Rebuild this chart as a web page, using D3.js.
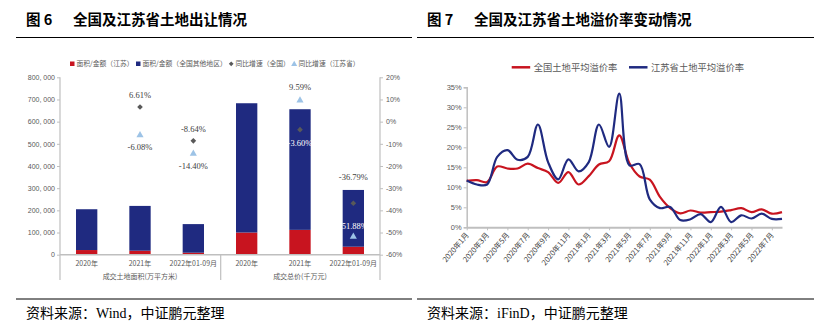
<!DOCTYPE html>
<html>
<head>
<meta charset="utf-8">
<script src="https://cdn.jsdelivr.net/npm/d3@7"></script>
<style>
    body { margin: 0; background: #fff; }
    text { font-family: "Noto Sans CJK SC", sans-serif; }
</style>
</head>
<body>
<div id="chart"></div>
<script>
// ---- figure 6 data ----
const groupNames = ['成交土地面积(万平方米)', '成交总价(千万元)'];
const periods = ['2020年', '2021年', '2022年01-09月'];
const jiangsuAmt = [21000, 18000, 9000, 100000, 112000, 36000];
const otherAmt = [184000, 202000, 129000, 583000, 544000, 256000];
const growthNation = [null, 6.61, -8.64, null, -3.60, -36.79];
const growthJiangsu = [null, -6.08, -14.40, null, 9.59, -51.88];
const leftTicks = [0, 100000, 200000, 300000, 400000, 500000, 600000, 700000, 800000];
const rightTicks = [-60, -50, -40, -30, -20, -10, 0, 10, 20];

// ---- figure 7 data ----
const months = ['2020年1月','2020年2月','2020年3月','2020年4月','2020年5月','2020年6月','2020年7月','2020年8月',
    '2020年9月','2020年10月','2020年11月','2020年12月','2021年1月','2021年2月','2021年3月','2021年4月',
    '2021年5月','2021年6月','2021年7月','2021年8月','2021年9月','2021年10月','2021年11月','2021年12月',
    '2022年1月','2022年2月','2022年3月','2022年4月','2022年5月','2022年6月','2022年7月','2022年8月'];
const premiumNation = [11.6, 11.8, 11.3, 15.2, 14.7, 14.7, 15.9, 14.8, 13.8, 11.1, 13.8, 10.7, 12.8, 15.7, 16.5, 23.0,
    16.0, 12.7, 11.9, 7.6, 4.8, 3.5, 4.2, 3.7, 3.8, 3.9, 4.3, 4.8, 3.8, 4.5, 3.4, 3.8];
const premiumJiangsu = [11.7, 10.7, 10.7, 17.6, 19.3, 16.9, 17.6, 25.7, 16.3, 12.0, 17.0, 14.0, 16.3, 25.7, 20.1, 33.4,
    15.5, 15.8, 7.0, 4.8, 5.1, 1.8, 2.0, 3.3, 1.3, 5.1, 1.3, 3.0, 2.2, 3.4, 2.1, 2.1];
const premiumTicks = [0, 5, 10, 15, 20, 25, 30, 35];

const RED = '#C8141F', NAVY = '#1F2A80', LIGHTBLUE = '#9DC3E6', DIAMOND = '#595959';
const AXIS = '#BFBFBF', LABEL = '#595959';

const svg = d3.select('#chart').append('svg')
    .attr('width', 829)
    .attr('height', 330);
svg.append('rect').attr('width', 829).attr('height', 330).attr('fill', '#fff');

// titles, rules and sources
function frame(x0, x1, num, title, source) {
    svg.append('text')
        .attr('x', x0 + 10).attr('y', 25)
        .attr('font-size', 14.5).attr('font-weight', 'bold').attr('fill', '#000')
        .text(num);
    svg.append('text')
        .attr('x', x0 + 57).attr('y', 25)
        .attr('font-size', 14.5).attr('font-weight', 'bold').attr('fill', '#000')
        .text(title);
    svg.append('line').attr('x1', x0).attr('x2', x1).attr('y1', 37.5).attr('y2', 37.5)
        .attr('stroke', '#000').attr('stroke-width', 1);
    svg.append('line').attr('x1', x0).attr('x2', x1).attr('y1', 299).attr('y2', 299)
        .attr('stroke', '#000').attr('stroke-width', 1);
    svg.append('text')
        .attr('x', x0 + 10).attr('y', 318)
        .attr('font-size', 14).attr('fill', '#000')
        .style('font-family', '"Liberation Serif", "Noto Sans CJK SC", serif')
        .text(source);
}
frame(16, 412, '图 6', '全国及江苏省土地出让情况', '资料来源：Wind，中证鹏元整理');
frame(417, 814, '图 7', '全国及江苏省土地溢价率变动情况', '资料来源：iFinD，中证鹏元整理');

// ================= figure 6 =================
const idx = d3.range(jiangsuAmt.length);
const x = d3.scaleBand().domain(idx).range([60, 380]).paddingInner(0.6).paddingOuter(0.3);
const yL = d3.scaleLinear().domain([0, 800000]).range([254.7, 77.3]);
const yR = d3.scaleLinear().domain([-60, 20]).range([254.7, 77.3]);

const gL = svg.append('g').attr('transform', 'translate(60,0)')
    .call(d3.axisLeft(yL).tickValues(leftTicks).tickSize(3).tickPadding(2)
        .tickFormat(d => d3.format(',')(d).replace(',', ', ')));
const gR = svg.append('g').attr('transform', 'translate(380,0)')
    .call(d3.axisRight(yR).tickValues(rightTicks).tickSize(3).tickPadding(3)
        .tickFormat(d => d + '%'));
[gL, gR].forEach(g => {
    g.select('.domain').remove();
    g.selectAll('line').attr('stroke', AXIS);
    g.selectAll('text').attr('fill', LABEL).attr('font-size', 7)
        .style('font-family', '"Liberation Sans", Arial, sans-serif');
});

// axis lines, baseline, separators
[60, 220.7, 380].forEach((lx, i) => {
    svg.append('line').attr('x1', lx).attr('x2', lx)
        .attr('y1', i === 1 ? yL(0) : yL(800000)).attr('y2', 280)
        .attr('stroke', AXIS).attr('stroke-width', 1.2);
});

// stacked bars
svg.append('g').selectAll('rect').data(idx).join('rect')
    .attr('x', i => x(i)).attr('width', x.bandwidth())
    .attr('y', i => yL(jiangsuAmt[i])).attr('height', i => yL(0) - yL(jiangsuAmt[i]))
    .attr('fill', RED);
svg.append('g').selectAll('rect').data(idx).join('rect')
    .attr('x', i => x(i)).attr('width', x.bandwidth())
    .attr('y', i => yL(jiangsuAmt[i] + otherAmt[i]))
    .attr('height', i => yL(jiangsuAmt[i]) - yL(jiangsuAmt[i] + otherAmt[i]))
    .attr('fill', NAVY);

svg.append('line').attr('x1', 60).attr('x2', 380).attr('y1', yL(0)).attr('y2', yL(0))
    .attr('stroke', AXIS).attr('stroke-width', 1.5);

// category labels
svg.append('g').selectAll('text').data(idx).join('text')
    .attr('x', i => x(i) + x.bandwidth() / 2).attr('y', 266)
    .attr('text-anchor', 'middle').attr('font-size', 7).attr('fill', LABEL)
    .text(i => periods[i % 3]);
svg.append('g').selectAll('text').data(groupNames).join('text')
    .attr('x', (d, g) => x(g * 3 + 1) + x.bandwidth() / 2).attr('y', 279)
    .attr('text-anchor', 'middle').attr('font-size', 7).attr('fill', LABEL)
    .text(d => d);

// growth markers and labels
const cx = i => x(i) + x.bandwidth() / 2;
const diamond = d3.symbol(d3.symbolSquare, 16);
const triangle = d3.symbol(d3.symbolTriangle, 22);
// label baseline offset from its marker, px
const offNation = [0, -9, -9, 0, 16, -23];
const offJiangsu = [0, 15, 15, 0, -10, -8];

function labels(values, off) {
    idx.filter(i => values[i] !== null).forEach(i => {
        const ty = yR(values[i]) + off[i];
        const barTop = yL(jiangsuAmt[i] + otherAmt[i]);
        svg.append('text')
            .attr('x', cx(i)).attr('y', ty)
            .attr('text-anchor', 'middle').attr('font-size', 8.5)
            .style('font-family', '"Liberation Serif", serif')
            .attr('fill', ty - 6 > barTop ? '#fff' : '#404040')
            .text(values[i].toFixed(2) + '%');
    });
}
svg.append('g').selectAll('path').data(idx.filter(i => growthNation[i] !== null)).join('path')
    .attr('d', diamond)
    .attr('transform', i => `translate(${cx(i)},${yR(growthNation[i])}) rotate(45)`)
    .attr('fill', DIAMOND);
svg.append('g').selectAll('path').data(idx.filter(i => growthJiangsu[i] !== null)).join('path')
    .attr('d', triangle)
    .attr('transform', i => `translate(${cx(i)},${yR(growthJiangsu[i])})`)
    .attr('fill', LIGHTBLUE);
labels(growthNation, offNation);
labels(growthJiangsu, offJiangsu);

// legend
const leg = [
    { name: '面积/金额（江苏）', x: 70, kind: 'sq', color: RED },
    { name: '面积/金额（全国其他地区）', x: 136, kind: 'sq', color: NAVY },
    { name: '同比增速（全国）', x: 229, kind: 'di', color: DIAMOND },
    { name: '同比增速（江苏省）', x: 292, kind: 'tr', color: LIGHTBLUE }
];
leg.forEach(l => {
    if (l.kind === 'sq') {
        svg.append('rect').attr('x', l.x).attr('y', 61.5).attr('width', 4.5).attr('height', 4.5).attr('fill', l.color);
    } else if (l.kind === 'di') {
        svg.append('path').attr('d', d3.symbol(d3.symbolSquare, 11))
            .attr('transform', `translate(${l.x + 2.2},63.8) rotate(45)`).attr('fill', l.color);
    } else {
        svg.append('path').attr('d', d3.symbol(d3.symbolTriangle, 16))
            .attr('transform', `translate(${l.x + 2.2},64.3)`).attr('fill', l.color);
    }
    svg.append('text').attr('x', l.x + 6.5).attr('y', 66.3)
        .attr('font-size', 6.8).attr('fill', LABEL).text(l.name);
});

// ================= figure 7 =================
const xm = d3.scalePoint().domain(months).range([466.7, 782]);
const yp = d3.scaleLinear().domain([0, 35]).range([227.3, 87.3]);

const gy = svg.append('g').attr('transform', 'translate(466.7,0)')
    .call(d3.axisLeft(yp).tickValues(premiumTicks).tickSize(3).tickPadding(2).tickFormat(d => d + '%'));
gy.select('.domain').attr('stroke', AXIS).attr('stroke-width', 1.5);
gy.selectAll('line').attr('stroke', AXIS);
gy.selectAll('text').attr('fill', LABEL).attr('font-size', 7.5)
    .style('font-family', '"Liberation Sans", Arial, sans-serif');

const gx = svg.append('g').attr('transform', 'translate(0,227.3)')
    .call(d3.axisBottom(xm).tickValues(months.filter((d, i) => i % 2 === 0)).tickSize(3).tickSizeOuter(0));
gx.select('.domain').attr('stroke', AXIS).attr('stroke-width', 2);
gx.selectAll('line').attr('stroke', AXIS);
gx.selectAll('text')
    .attr('fill', '#404040').attr('font-size', 7.5)
    .attr('text-anchor', 'end')
    .attr('dy', null).attr('y', 0)
    .attr('transform', 'translate(2,8) rotate(-50)');

const line = d3.line()
    .x((d, i) => xm(months[i]))
    .y(d => yp(d))
    .curve(d3.curveCatmullRom.alpha(0.5));
svg.append('path').datum(premiumNation).attr('d', line)
    .attr('fill', 'none').attr('stroke', RED).attr('stroke-width', 2.2);
svg.append('path').datum(premiumJiangsu).attr('d', line)
    .attr('fill', 'none').attr('stroke', NAVY).attr('stroke-width', 2.2);

// legend
[{ name: '全国土地平均溢价率', x: 511.7, color: RED },
 { name: '江苏省土地平均溢价率', x: 629, color: NAVY }].forEach(l => {
    svg.append('line').attr('x1', l.x).attr('x2', l.x + 18.5).attr('y1', 67.3).attr('y2', 67.3)
        .attr('stroke', l.color).attr('stroke-width', 2.5);
    svg.append('text').attr('x', l.x + 22).attr('y', 70.8)
        .attr('font-size', 9.3).attr('fill', LABEL).text(l.name);
});
</script>
</body>
</html>
